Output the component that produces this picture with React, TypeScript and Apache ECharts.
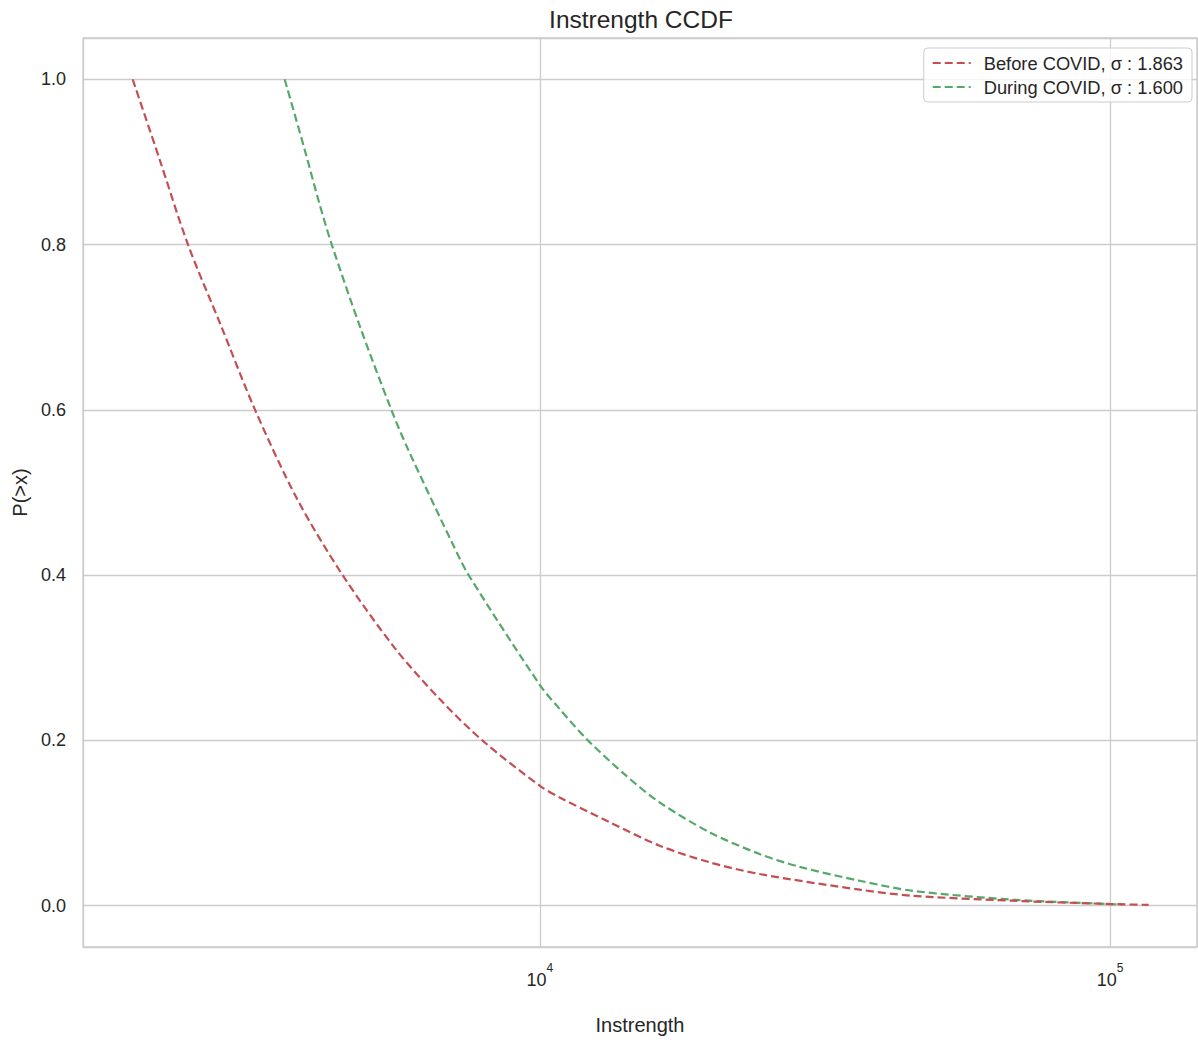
import React, { useEffect, useRef } from "react";
import * as echarts from "echarts";

const TITLE = "Instrength CCDF";
const X_NAME = "Instrength";
const Y_NAME = "P(>x)";
const SERIES_NAMES = ["Before COVID, σ : 1.863", "During COVID, σ : 1.600"];
const COLORS = ["#C44E52", "#55A868"];

const beforeX = [1931, 2153, 2414, 2758, 3165, 3752, 4508, 5561, 6671, 7925, 10000, 10830, 13250, 16210, 19840, 24280, 36360, 45040, 67440, 100000, 116800];
const beforeY = [1.0, 0.903, 0.8, 0.702, 0.6, 0.492, 0.4, 0.312, 0.25, 0.2, 0.145, 0.131, 0.101, 0.0726, 0.0525, 0.0383, 0.0194, 0.012, 0.006, 0.002, 0.001];

const duringX = [3567, 3867, 4099, 4314, 4830, 5488, 5869, 7038, 7499, 10000, 10830, 12140, 14180, 16210, 19840, 24280, 28530, 36360, 45040, 67440, 100000, 105100];
const duringY = [1.0, 0.915, 0.851, 0.8, 0.7016, 0.6, 0.5524, 0.437, 0.4, 0.267, 0.238, 0.2, 0.157, 0.125, 0.0888, 0.0625, 0.047, 0.0302, 0.018, 0.0073, 0.002, 0.0015];

const X_MIN = 1580;
const X_MAX = 142000;
const Y_MIN = -0.05;
const Y_MAX = 1.05;

const FONT = "'Liberation Sans', Arial, sans-serif";
const TEXT = "#262626";
const GRID = "#cccccc";

export default function App() {
  const ref = useRef<HTMLDivElement>(null);
  useEffect(() => {
    if (!ref.current) return;
    const chart = echarts.init(ref.current, undefined, { renderer: "svg" });
    const mk = (xs: number[], ys: number[]) => xs.map((x, i) => [x, ys[i]]);
    chart.setOption({
      animation: false,
      backgroundColor: "#ffffff",
      textStyle: { fontFamily: FONT },
      graphic: [
        {
          type: "text",
          x: 641,
          y: 19,
          style: {
            text: TITLE,
            fill: TEXT,
            font: `24.5px ${FONT}`,
            textAlign: "center",
            textVerticalAlign: "middle",
          },
        },
      ],
      grid: {
        left: 83,
        right: 1,
        top: 38,
        bottom: 97,
        show: true,
        borderColor: GRID,
        borderWidth: 1.3,
        backgroundColor: "transparent",
      },
      legend: {
        orient: "vertical",
        right: 6,
        top: 48,
        itemWidth: 38,
        itemHeight: 14,
        itemGap: 6,
        padding: [6, 9, 6, 8],
        backgroundColor: "rgba(255,255,255,0.8)",
        borderColor: GRID,
        borderWidth: 1,
        borderRadius: 4,
        itemStyle: { opacity: 0 },
        textStyle: { fontSize: 18.3, color: TEXT, fontFamily: FONT, padding: [0, 0, 0, 8] },
        data: SERIES_NAMES,
      },
      xAxis: {
        type: "log",
        logBase: 10,
        min: X_MIN,
        max: X_MAX,
        name: X_NAME,
        nameLocation: "middle",
        nameGap: 68,
        nameTextStyle: { fontSize: 20, color: TEXT, fontFamily: FONT },
        axisLine: { show: false },
        axisTick: { show: false },
        minorTick: { show: false },
        splitLine: { show: true, lineStyle: { color: GRID, width: 1.3 } },
        axisLabel: {
          showMinLabel: false,
          showMaxLabel: false,
          margin: 15,
          color: TEXT,
          formatter: (v: number) => `{b|10}{e|${Math.round(Math.log10(v))}}`,
          rich: {
            b: { fontSize: 18, color: TEXT, fontFamily: FONT, padding: [9, 0, 0, 0] },
            e: { fontSize: 12, color: TEXT, fontFamily: FONT, verticalAlign: "top", padding: [0, 0, 9, 0] },
          },
        },
      },
      yAxis: {
        type: "value",
        min: Y_MIN,
        max: Y_MAX,
        splitNumber: 5,
        name: Y_NAME,
        nameLocation: "middle",
        nameGap: 52,
        nameRotate: 90,
        nameTextStyle: { fontSize: 20, color: TEXT, fontFamily: FONT },
        axisLine: { show: false },
        axisTick: { show: false },
        splitLine: { show: true, lineStyle: { color: GRID, width: 1.3 } },
        axisLabel: {
          showMinLabel: false,
          showMaxLabel: false,
          margin: 17,
          fontSize: 18,
          color: TEXT,
          fontFamily: FONT,
          formatter: (v: number) => v.toFixed(1),
        },
      },
      series: [
        {
          name: SERIES_NAMES[0],
          type: "line",
          data: mk(beforeX, beforeY),
          symbol: "none",
          smooth: 0.3,
          lineStyle: { color: COLORS[0], width: 2.2, type: [8, 4] },
          itemStyle: { color: COLORS[0] },
          z: 3,
        },
        {
          name: SERIES_NAMES[1],
          type: "line",
          data: mk(duringX, duringY),
          symbol: "none",
          smooth: 0.3,
          lineStyle: { color: COLORS[1], width: 2.2, type: [8, 4] },
          itemStyle: { color: COLORS[1] },
          z: 2,
        },
      ],
    });
    return () => chart.dispose();
  }, []);
  return (
    <div
      ref={ref}
      style={{ position: "fixed", left: 0, top: 0, width: 1198, height: 1044 }}
    />
  );
}
